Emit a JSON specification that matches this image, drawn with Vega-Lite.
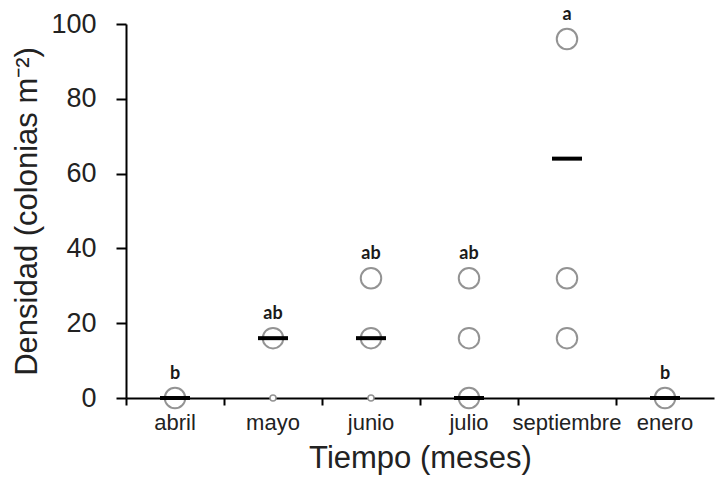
{
  "$schema": "https://vega.github.io/schema/vega-lite/v6.json",
  "width": 588,
  "height": 374,
  "autosize": {"type": "none"},
  "padding": {"left": 126, "top": 24, "right": 2, "bottom": 80},
  "background": "white",
  "config": {
    "view": {"stroke": null},
    "axis": {"grid": false, "domainColor": "#000", "tickColor": "#000", "labelFont": "Liberation Sans", "titleFont": "Liberation Sans", "labelColor": "#222", "titleColor": "#222", "titleFontWeight": "normal"}
  },
  "datasets": {
    "obs": [
      {"mes": "abril", "valor": 0, "tipo": "grande"},
      {"mes": "mayo", "valor": 16, "tipo": "grande"},
      {"mes": "mayo", "valor": 0, "tipo": "pequeño"},
      {"mes": "junio", "valor": 32, "tipo": "grande"},
      {"mes": "junio", "valor": 16, "tipo": "grande"},
      {"mes": "junio", "valor": 0, "tipo": "pequeño"},
      {"mes": "julio", "valor": 32, "tipo": "grande"},
      {"mes": "julio", "valor": 16, "tipo": "grande"},
      {"mes": "julio", "valor": 0, "tipo": "grande"},
      {"mes": "septiembre", "valor": 96, "tipo": "grande"},
      {"mes": "septiembre", "valor": 32, "tipo": "grande"},
      {"mes": "septiembre", "valor": 16, "tipo": "grande"},
      {"mes": "enero", "valor": 0, "tipo": "grande"}
    ],
    "medias": [
      {"mes": "abril", "media": 0},
      {"mes": "mayo", "media": 16},
      {"mes": "junio", "media": 16},
      {"mes": "julio", "media": 0},
      {"mes": "septiembre", "media": 64},
      {"mes": "enero", "media": 0}
    ],
    "letras": [
      {"mes": "abril", "letra": "b", "tope": 0},
      {"mes": "mayo", "letra": "ab", "tope": 16},
      {"mes": "junio", "letra": "ab", "tope": 32},
      {"mes": "julio", "letra": "ab", "tope": 32},
      {"mes": "septiembre", "letra": "a", "tope": 96},
      {"mes": "enero", "letra": "b", "tope": 0}
    ]
  },
  "encoding": {
    "x": {
      "field": "mes", "type": "nominal",
      "scale": {"domain": ["abril", "mayo", "junio", "julio", "septiembre", "enero"], "paddingInner": 0, "paddingOuter": 0},
      "axis": {"title": "Tiempo (meses)", "labelAngle": 0, "bandPosition": 0, "labelOffset": 0, "tickSize": 7, "tickWidth": 2, "domainWidth": 2, "labelFontSize": 22, "labelPadding": 7, "titleFontSize": 31, "titlePadding": 10}
    }
  },
  "layer": [
    {
      "data": {"name": "obs"},
      "mark": {"type": "point", "shape": "circle", "filled": false, "fill": "white", "fillOpacity": 1, "stroke": "#939393", "strokeWidth": 2, "opacity": 1},
      "encoding": {
        "y": {"field": "valor", "type": "quantitative", "scale": {"domain": [0, 100], "nice": false},
          "axis": {"title": "Densidad (colonias m⁻²)", "values": [0, 20, 40, 60, 80, 100], "tickSize": 10, "tickWidth": 2, "domainWidth": 2, "labelFontSize": 27, "labelPadding": 20, "titleFontSize": 31, "titlePadding": 7}},
        "size": {"field": "tipo", "type": "nominal", "scale": {"domain": ["grande", "pequeño"], "range": [420, 36]}, "legend": null},
        "strokeWidth": {"field": "tipo", "type": "nominal", "scale": {"domain": ["grande", "pequeño"], "range": [2, 1.5]}, "legend": null}
      }
    },
    {
      "data": {"name": "medias"},
      "mark": {"type": "tick", "color": "#000", "thickness": 4, "size": 30, "opacity": 1},
      "encoding": {
        "y": {"field": "media", "type": "quantitative"}
      }
    },
    {
      "data": {"name": "letras"},
      "mark": {"type": "text", "font": "Lato", "fontWeight": "bold", "fontSize": 18, "color": "#1a1a1a", "baseline": "middle", "dy": -24},
      "encoding": {
        "y": {"field": "tope", "type": "quantitative"},
        "text": {"field": "letra"}
      }
    }
  ]
}
